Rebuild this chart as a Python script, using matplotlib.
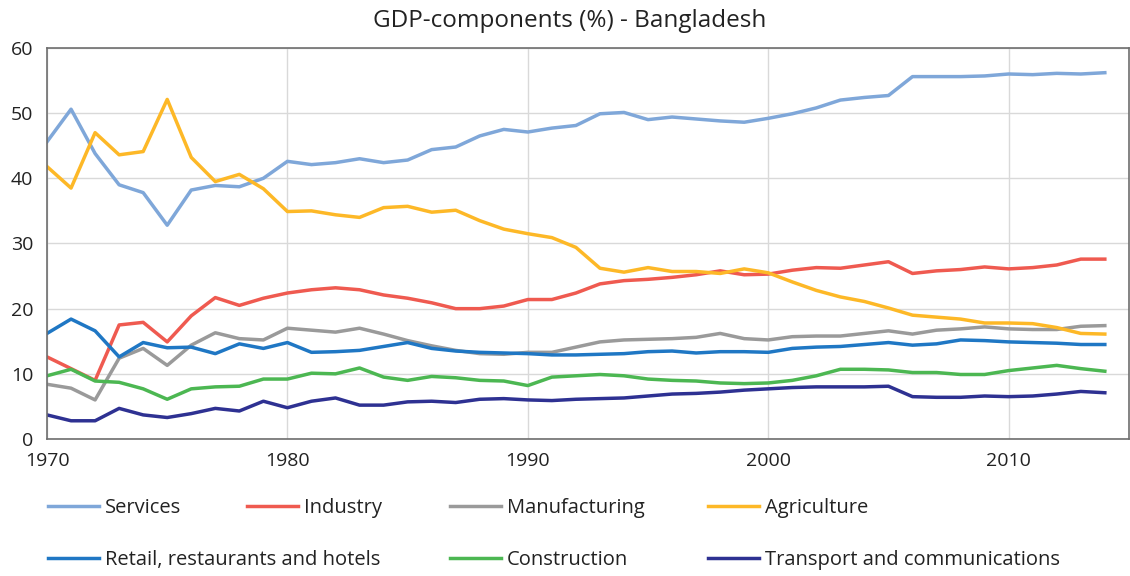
import matplotlib
matplotlib.use('Agg')
import matplotlib.pyplot as plt

plt.rcParams['font.family'] = ['Open Sans', 'DejaVu Sans']

years = list(range(1970, 2015))

services = [45.6, 50.6, 43.8, 39.0, 37.8, 32.8, 38.2, 38.9, 38.7, 40.0,
            42.6, 42.1, 42.4, 43.0, 42.4, 42.8, 44.4, 44.8, 46.5, 47.5,
            47.1, 47.7, 48.1, 49.9, 50.1, 49.0, 49.4, 49.1, 48.8, 48.6,
            49.2, 49.9, 50.8, 52.0, 52.4, 52.7, 55.6, 55.6, 55.6, 55.7,
            56.0, 55.9, 56.1, 56.0, 56.2]
industry = [12.6, 10.8, 9.0, 17.5, 17.9, 14.9, 18.9, 21.7, 20.5, 21.6,
            22.4, 22.9, 23.2, 22.9, 22.1, 21.6, 20.9, 20.0, 20.0, 20.4,
            21.4, 21.4, 22.4, 23.8, 24.3, 24.5, 24.8, 25.2, 25.8, 25.2,
            25.3, 25.9, 26.3, 26.2, 26.7, 27.2, 25.4, 25.8, 26.0, 26.4,
            26.1, 26.3, 26.7, 27.6, 27.6]
manufacturing = [8.4, 7.8, 6.0, 12.4, 13.9, 11.3, 14.4, 16.3, 15.4, 15.2,
                 17.0, 16.7, 16.4, 17.0, 16.1, 15.1, 14.3, 13.6, 13.1, 13.0,
                 13.3, 13.3, 14.1, 14.9, 15.2, 15.3, 15.4, 15.6, 16.2, 15.4,
                 15.2, 15.7, 15.8, 15.8, 16.2, 16.6, 16.1, 16.7, 16.9, 17.2,
                 16.9, 16.8, 16.8, 17.3, 17.4]
agriculture = [41.8, 38.5, 47.0, 43.6, 44.1, 52.1, 43.2, 39.5, 40.6, 38.4,
               34.9, 35.0, 34.4, 34.0, 35.5, 35.7, 34.8, 35.1, 33.5, 32.2,
               31.5, 30.9, 29.4, 26.2, 25.6, 26.3, 25.7, 25.7, 25.4, 26.1,
               25.5, 24.1, 22.8, 21.8, 21.1, 20.1, 19.0, 18.7, 18.4, 17.8,
               17.8, 17.7, 17.1, 16.2, 16.1]
retail = [16.2, 18.4, 16.6, 12.6, 14.8, 14.0, 14.1, 13.1, 14.6, 13.9,
          14.8, 13.3, 13.4, 13.6, 14.2, 14.8, 13.9, 13.5, 13.3, 13.2,
          13.1, 12.9, 12.9, 13.0, 13.1, 13.4, 13.5, 13.2, 13.4, 13.4,
          13.3, 13.9, 14.1, 14.2, 14.5, 14.8, 14.4, 14.6, 15.2, 15.1,
          14.9, 14.8, 14.7, 14.5, 14.5]
construction = [9.7, 10.7, 8.9, 8.7, 7.7, 6.1, 7.7, 8.0, 8.1, 9.2,
                9.2, 10.1, 10.0, 10.9, 9.5, 9.0, 9.6, 9.4, 9.0, 8.9,
                8.2, 9.5, 9.7, 9.9, 9.7, 9.2, 9.0, 8.9, 8.6, 8.5,
                8.6, 9.0, 9.7, 10.7, 10.7, 10.6, 10.2, 10.2, 9.9, 9.9,
                10.5, 10.9, 11.3, 10.8, 10.4]
transport = [3.7, 2.8, 2.8, 4.7, 3.7, 3.3, 3.9, 4.7, 4.3, 5.8,
             4.8, 5.8, 6.3, 5.2, 5.2, 5.7, 5.8, 5.6, 6.1, 6.2,
             6.0, 5.9, 6.1, 6.2, 6.3, 6.6, 6.9, 7.0, 7.2, 7.5,
             7.7, 7.9, 8.0, 8.0, 8.0, 8.1, 6.5, 6.4, 6.4, 6.6,
             6.5, 6.6, 6.9, 7.3, 7.1]

names = ['Services', 'Industry', 'Manufacturing', 'Agriculture',
         'Retail, restaurants and hotels', 'Construction', 'Transport and communications']
colors = ['#7fa7d9', '#ef5a50', '#9a9a9a', '#fdb827', '#1f77c4', '#4cb752', '#2e3192']
series = [services, industry, manufacturing, agriculture, retail, construction, transport]

fig = plt.figure(figsize=(11.3, 5.76), dpi=100)
ax = fig.add_axes([0.0416, 0.2378, 0.9574, 0.679])

lines = []
for vals, c, n in zip(series, colors, names):
    l, = ax.plot(years, vals, color=c, lw=2.5, label=n)
    lines.append(l)

ax.set_xlim(1970, 2015)
ax.set_ylim(0, 60)
ax.set_xticks([1970, 1980, 1990, 2000, 2010])
ax.set_yticks(range(0, 61, 10))
ax.grid(True, color='#d9d9d9', lw=1)
ax.set_axisbelow(True)
ax.tick_params(length=0, labelsize=14, colors='#222222')
ax.tick_params(axis='y', pad=10)
ax.tick_params(axis='x', pad=9)
for s in ax.spines.values():
    s.set_color('#6e6e6e')
    s.set_linewidth(1.2)

fig.text(0.504, 0.964, 'GDP-components (%) - Bangladesh', fontsize=17.5,
         color='#222222', ha='center', va='center')

# legend entries placed like the original two-row layout
pos = [(0.0425, 0.118), (0.2186, 0.118), (0.398, 0.118), (0.6265, 0.118),
       (0.0425, 0.027), (0.398, 0.027), (0.6265, 0.027)]
for l, (px, py) in zip(lines, pos):
    fig.legend(handles=[l], loc='center left', bbox_to_anchor=(px, py),
               frameon=False, fontsize=14.5, handlelength=2.55, handletextpad=0.28,
               borderpad=0, borderaxespad=0, labelcolor='#222222')

fig.savefig('out.png', dpi=100)
